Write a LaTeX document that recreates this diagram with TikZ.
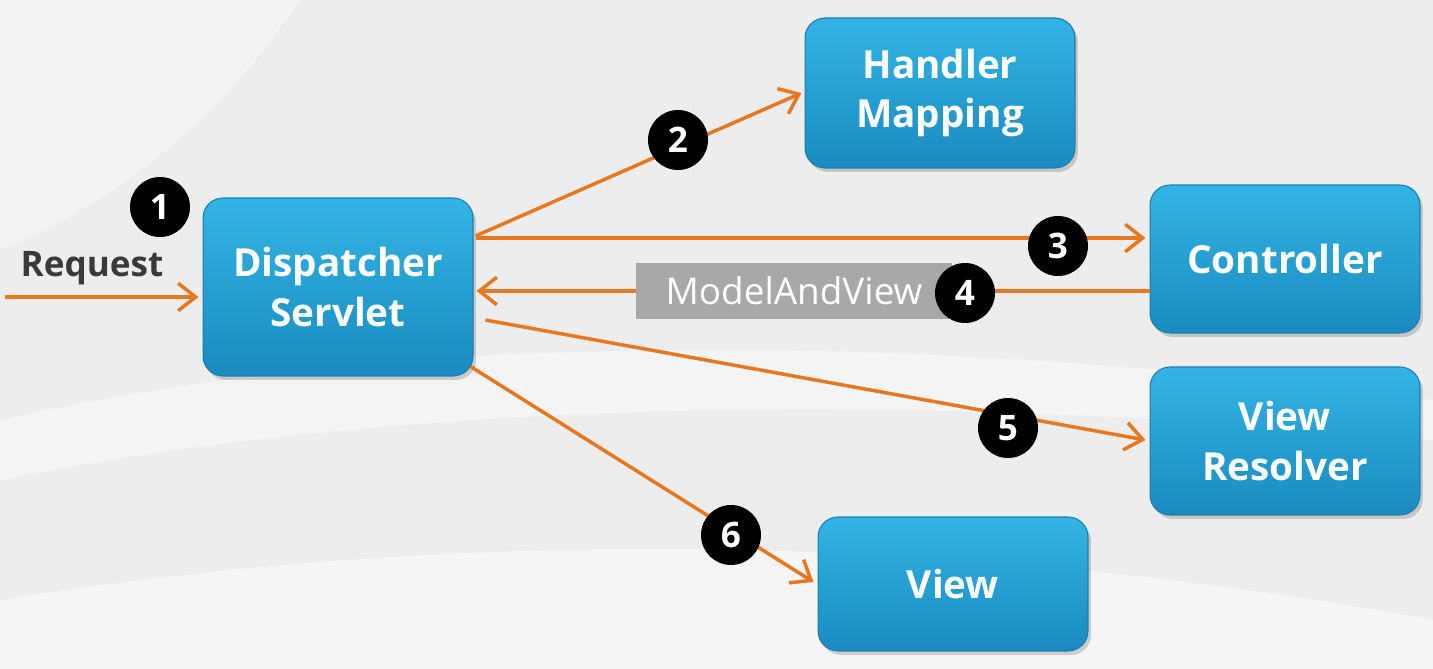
\documentclass[tikz,border=0pt]{standalone}
\usepackage{fontspec}
\setmainfont{Open Sans}
\usetikzlibrary{arrows.meta,positioning,calc,shadows}
\definecolor{boxtop}{HTML}{33B4E6}
\definecolor{boxbot}{HTML}{1A8BC0}
\definecolor{boxedge}{HTML}{1A7DAE}
\definecolor{flowcol}{HTML}{E7781F}
\definecolor{mavgray}{HTML}{A8A8A8}
\definecolor{reqtext}{HTML}{3A3A3A}
\definecolor{bgcol}{HTML}{EDEDED}
\begin{document}
\begin{tikzpicture}[x=0.02cm,y=-0.02cm,
	comp/.style={rounded corners=0.4cm,draw=boxedge,line width=0.6pt,top color=boxtop,bottom color=boxbot,
		text=white,align=center,minimum width=5.4cm,font=\fontsize{22}{28}\selectfont\bfseries,
		drop shadow={opacity=0.35,shadow xshift=0.06cm,shadow yshift=-0.08cm}},
	flow/.style={draw=flowcol,line width=2pt,-{Straight Barb[length=0.35cm,width=0.55cm,line width=2pt]}},
	badge/.style={circle,fill=black,text=white,minimum size=1.2cm,inner sep=0pt,font=\fontsize{20}{20}\selectfont\bfseries}]
	\useasboundingbox (0,0) rectangle (1433,669);
	\fill[bgcol] (0,0) rectangle (1433,669);
	\fill[white,opacity=0.35] (0,0) -- (300,0) .. controls (220,120) and (120,200) .. (0,250) -- cycle;
	\fill[white,opacity=0.4] (0,420) .. controls (400,330) and (900,330) .. (1433,400) -- (1433,440) .. controls (900,390) and (400,400) .. (0,480) -- cycle;
	\fill[white,opacity=0.45] (0,600) .. controls (500,520) and (1000,540) .. (1433,620) -- (1433,669) -- (0,669) -- cycle;
	\node[comp,minimum height=3.56cm] (disp) at (338,287) {Dispatcher\\Servlet};
	\node[comp,minimum height=3cm] (hm) at (940,93) {Handler\\Mapping};
	\node[comp,minimum height=2.96cm] (ctrl) at (1285,259) {Controller};
	\node[comp,minimum height=2.96cm] (vr) at (1285,441) {View\\Resolver};
	\node[comp,minimum height=2.68cm] (view) at (953,584) {View};
	\node[text=reqtext,font=\fontsize{20}{20}\selectfont\bfseries] (reqlbl) at (92,268) {Request};
	\coordinate (req) at (5,297);
	\draw[flow] (req) -- ($(disp.west |- req)+(-4,0)$);
	\draw[flow] ($(disp.east)+(2,-51)$) -- ($(hm.west)+(-3,0)$);
	\draw[flow] ($(disp.east)+(2,-49)$) -- ($(ctrl.west)+(-4,-21)$);
	\draw[flow] ($(ctrl.west)+(0,32)$) -- ($(disp.east)+(3,4)$);
	\draw[flow] ($(disp.east)+(12,33)$) -- ($(vr.west)+(-4,-1)$);
	\draw[flow] ($(disp.south east)+(-3,-10)$) -- ($(view.west)+(-4,-2)$);
	\node[fill=mavgray,text=white,minimum width=6.32cm,minimum height=1.14cm,font=\fontsize{21}{21}\selectfont] (mav) at (794,291) {ModelAndView};
	\node[badge] (b1) at (160,207) {1};
	\node[badge] (b2) at (678,140) {2};
	\node[badge] (b3) at (1058,246) {3};
	\node[badge] (b4) at (965,293) {4};
	\node[badge] (b5) at (1008,428) {5};
	\node[badge] (b6) at (731,535) {6};
\end{tikzpicture}
\end{document}
